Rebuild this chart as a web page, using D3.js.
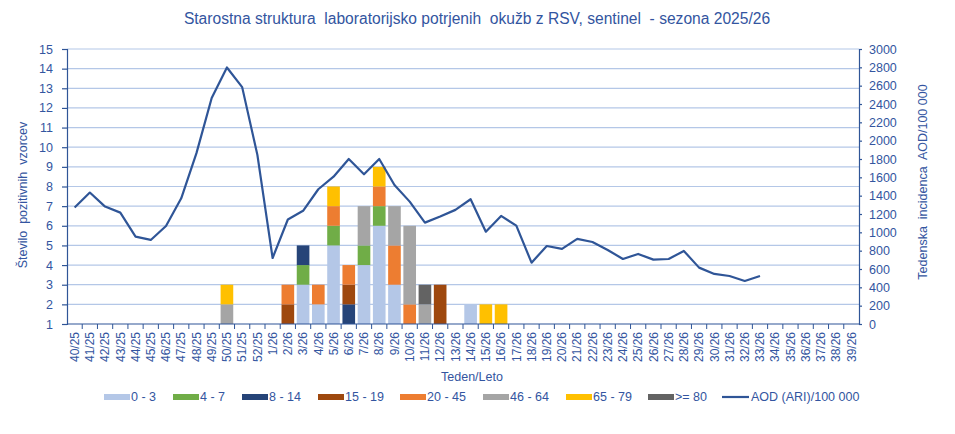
<!DOCTYPE html>
<html>
<head>
<meta charset="utf-8">
<script src="https://cdn.jsdelivr.net/npm/d3@7"></script>
<style>
  body { margin: 0; background: #fff; }
  text { font-family: "Liberation Sans", Arial, sans-serif; fill: #3355a0; }
</style>
</head>
<body>
<div id="chart-area"></div>
<script>
// categories (weeks)
var weeks = ["40/25","41/25","42/25","43/25","44/25","45/25","46/25","47/25","48/25","49/25","50/25","51/25","52/25",
  "1/26","2/26","3/26","4/26","5/26","6/26","7/26","8/26","9/26","10/26","11/26","12/26","13/26","14/26","15/26","16/26",
  "17/26","18/26","19/26","20/26","21/26","22/26","23/26","24/26","25/26","26/26","27/26","28/26","29/26","30/26",
  "31/26","32/26","33/26","34/26","35/26","36/26","37/26","38/26","39/26"];

// weekly ARI incidence / 100 000 (right axis)
var aod = [1270,1434,1281,1215,953,917,1069,1371,1864,2465,2798,2584,1845,
  720,1140,1235,1470,1607,1800,1633,1800,1517,1335,1106,1172,1245,1361,1007,1179,
  1073,669,851,819,928,895,808,709,764,702,709,797,615,546,
  524,469,524,null,null,null,null,null,null];

// weeks with positive samples, counts per age group (visible above axis minimum)
var barWeeks = ["50/25","2/26","3/26","4/26","5/26","6/26","7/26","8/26","9/26","10/26","11/26","12/26","14/26","15/26","16/26"];
var age0_3   = [0,0,2,1,4,0,3,5,2,0,0,0,1,0,0];
var age4_7   = [0,0,1,0,1,0,1,1,0,0,0,0,0,0,0];
var age8_14  = [0,0,1,0,0,1,0,0,0,0,0,0,0,0,0];
var age15_19 = [0,1,0,0,0,1,0,0,0,0,0,2,0,0,0];
var age20_45 = [0,1,0,1,1,1,0,1,2,1,0,0,0,0,0];
var age46_64 = [1,0,0,0,0,0,2,0,2,4,1,0,0,0,0];
var age65_79 = [1,0,0,0,1,0,0,1,0,0,0,0,0,1,1];
var age80    = [0,0,0,0,0,0,0,0,0,0,1,0,0,0,0];

var groups = ["0 - 3","4 - 7","8 - 14","15 - 19","20 - 45","46 - 64","65 - 79",">= 80"];
var groupValues = [age0_3, age4_7, age8_14, age15_19, age20_45, age46_64, age65_79, age80];
var colors = ["#b4c7e7","#70ad47","#264478","#9e480e","#ed7d31","#a5a5a5","#ffc000","#636363"];

var leftTicks = [1,2,3,4,5,6,7,8,9,10,11,12,13,14,15];
var rightTicks = [0,200,400,600,800,1000,1200,1400,1600,1800,2000,2200,2400,2600,2800,3000];

var W = 955, H = 434;
var plotL = 67, plotR = 859, plotT = 49, plotB = 324;
var axisColor = "#2f5597";

var svg = d3.select("#chart-area").append("svg")
  .attr("width", W).attr("height", H);

var x = d3.scaleBand().domain(weeks).range([plotL, plotR])
  .paddingInner(0.17).paddingOuter(0.085);
var y = d3.scaleLinear().domain([1, 15]).range([plotB, plotT]);
var y2 = d3.scaleLinear().domain([0, 3000]).range([plotB, plotT]);

// title
svg.append("text")
  .attr("x", 477).attr("y", 24)
  .attr("text-anchor", "middle")
  .style("font-size", "15.6px")
  .style("white-space", "pre")
  .text("Starostna struktura  laboratorijsko potrjenih  okužb z RSV, sentinel  - sezona 2025/26");

// gridlines
svg.append("g").selectAll("line")
  .data(leftTicks.slice(1))
  .enter().append("line")
  .attr("x1", plotL).attr("x2", plotR)
  .attr("y1", (d) => y(d)).attr("y2", (d) => y(d))
  .attr("stroke", "#b4c7e7").attr("stroke-width", 1.2);

// stacked bars
var table = barWeeks.map(function(w, i) {
  var row = { week: w };
  groups.forEach(function(g, j) { row[g] = groupValues[j][i]; });
  return row;
});
var stack = d3.stack().keys(groups)(table);

svg.append("g").selectAll("g")
  .data(stack)
  .enter().append("g")
  .attr("fill", (d, j) => colors[j])
  .selectAll("rect")
  .data((d) => d.filter((s) => s[1] > s[0]))
  .enter().append("rect")
  .attr("x", (d) => x(d.data.week))
  .attr("width", x.bandwidth())
  .attr("y", (d) => y(1 + d[1]))
  .attr("height", (d) => y(1 + d[0]) - y(1 + d[1]));

// line
var line = d3.line()
  .defined((d) => d != null)
  .x((d, i) => x(weeks[i]) + x.bandwidth() / 2)
  .y((d) => y2(d));

svg.append("path")
  .datum(aod)
  .attr("d", line)
  .attr("fill", "none")
  .attr("stroke", "#2f5597")
  .attr("stroke-width", 2.2)
  .attr("stroke-linejoin", "round");

// left axis
var yAxis = svg.append("g")
  .attr("transform", "translate(" + plotL + ",0)")
  .call(d3.axisLeft(y).tickValues(leftTicks).tickSize(5).tickPadding(9));
yAxis.selectAll("text").style("font-size", "12.5px");

// right axis
var yAxis2 = svg.append("g")
  .attr("transform", "translate(" + plotR + ",0)")
  .call(d3.axisRight(y2).tickValues(rightTicks).tickFormat(d3.format("d")).tickSize(3).tickPadding(7));
yAxis2.selectAll("text").style("font-size", "12.5px");

// bottom axis labels
var xAxis = svg.append("g")
  .attr("transform", "translate(0," + plotB + ")")
  .call(d3.axisBottom(x).tickSize(0));
xAxis.select(".domain").remove();
xAxis.selectAll("text")
  .style("font-size", "12px")
  .attr("text-anchor", "end")
  .attr("transform", "rotate(-90)")
  .attr("x", -8).attr("y", 0).attr("dy", "0.35em");

// bottom axis line and boundary ticks
svg.append("line")
  .attr("x1", plotL).attr("x2", plotR)
  .attr("y1", plotB).attr("y2", plotB)
  .attr("stroke", axisColor).attr("stroke-width", 1.2);
var half = x.step() * x.paddingInner() / 2;
svg.append("g").selectAll("line")
  .data(weeks.slice(1))
  .enter().append("line")
  .attr("x1", (d) => x(d) - half).attr("x2", (d) => x(d) - half)
  .attr("y1", plotB).attr("y2", plotB + 5)
  .attr("stroke", axisColor);

svg.selectAll(".domain, .tick line").attr("stroke", axisColor).attr("stroke-width", 1.2);
svg.selectAll(".tick text").attr("fill", "#3355a0");

// axis titles
svg.append("text")
  .attr("x", 472).attr("y", 381)
  .attr("text-anchor", "middle")
  .style("font-size", "12.5px")
  .text("Teden/Leto");

svg.append("text")
  .attr("transform", "translate(27,195) rotate(-90)")
  .attr("text-anchor", "middle")
  .style("font-size", "12.5px")
  .style("white-space", "pre")
  .text("Število  pozitivnih  vzorcev");

svg.append("text")
  .attr("transform", "translate(927,182) rotate(-90)")
  .attr("text-anchor", "middle")
  .style("font-size", "12.5px")
  .style("white-space", "pre")
  .text("Tedenska  incidenca  AOD/100 000");

// legend
var legendX = [104, 173, 242, 318, 400, 483, 566, 648];
var legendY = 397;
var legend = svg.append("g");
groups.forEach(function(g, j) {
  legend.append("rect")
    .attr("x", legendX[j]).attr("y", legendY - 3)
    .attr("width", 26).attr("height", 6)
    .attr("fill", colors[j]);
  legend.append("text")
    .attr("x", legendX[j] + 27).attr("y", legendY).attr("dy", "0.35em")
    .style("font-size", "12.5px")
    .text(g);
});
legend.append("line")
  .attr("x1", 722).attr("x2", 749)
  .attr("y1", legendY).attr("y2", legendY)
  .attr("stroke", "#2f5597").attr("stroke-width", 2.2);
legend.append("text")
  .attr("x", 751).attr("y", legendY).attr("dy", "0.35em")
  .style("font-size", "12.5px")
  .text("AOD (ARI)/100 000");
</script>
</body>
</html>
